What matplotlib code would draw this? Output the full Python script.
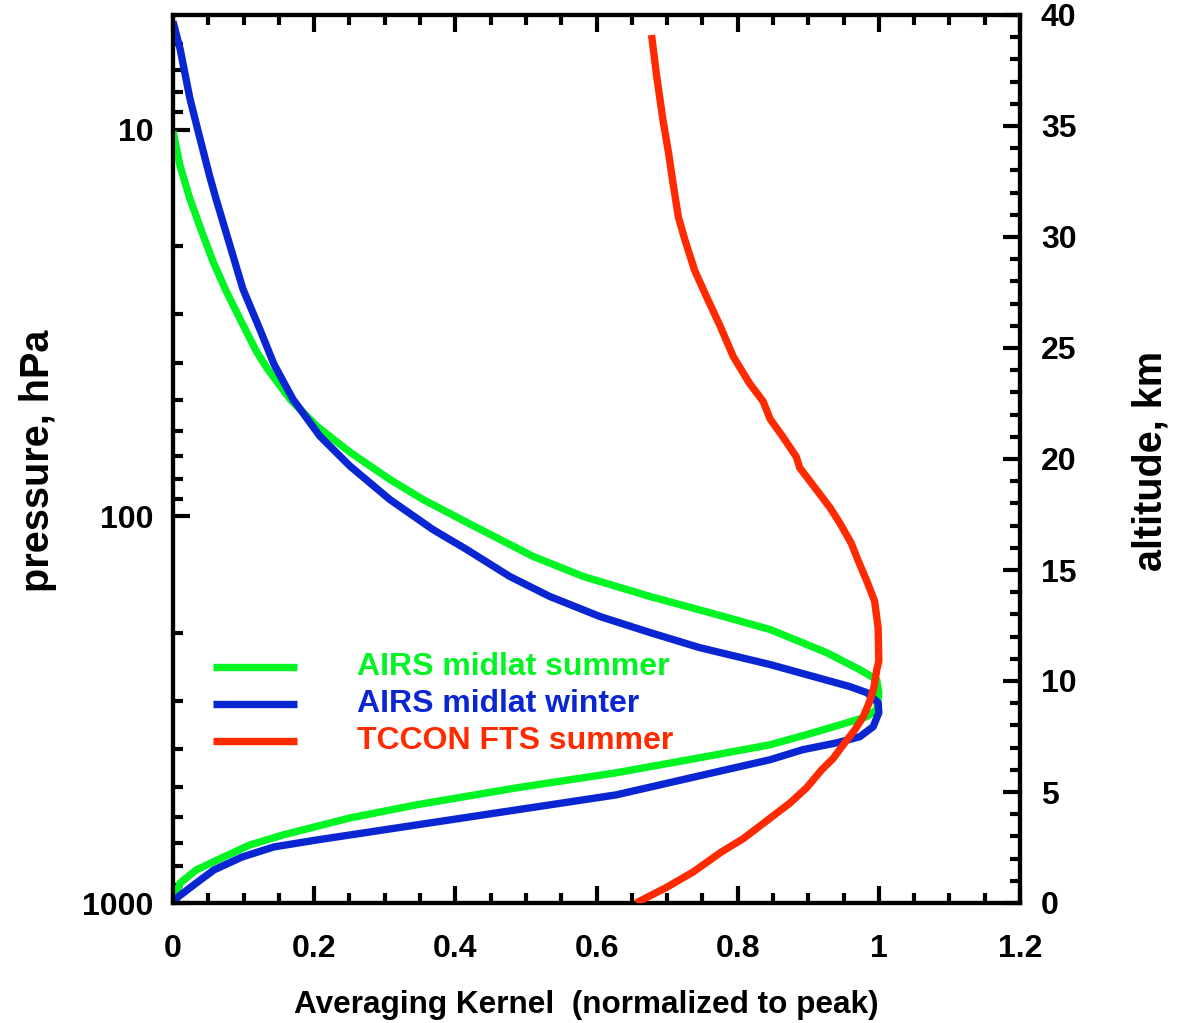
import matplotlib
matplotlib.use("Agg")
import matplotlib.pyplot as plt
from matplotlib.ticker import FixedLocator, MultipleLocator, NullFormatter, LogLocator, FixedFormatter
from matplotlib.lines import Line2D

plt.rcParams['font.family'] = ['Liberation Sans', 'DejaVu Sans']
plt.rcParams['font.weight'] = 'bold'

# ---- data ----
summer_ak = [0.000, 0.010, 0.024, 0.041, 0.057, 0.076, 0.097, 0.118, 0.134, 0.166,
             0.204, 0.251, 0.307, 0.354, 0.416, 0.510, 0.581, 0.676, 0.770, 0.846,
             0.926, 0.973, 0.997, 1.000, 0.997, 0.983, 0.955, 0.907, 0.846, 0.746,
             0.628, 0.487, 0.345, 0.251, 0.156, 0.109, 0.072, 0.033, 0.010, 0.003,
             0.000]
summer_p = [10.1, 12.4, 15.1, 18.4, 22.0, 26.3, 31.4, 37.4, 41.6, 49.8,
            58.5, 68.3, 80.2, 90.4, 103.6, 126.9, 143.0, 161.2, 179.4, 196.2,
            225.1, 249.2, 264.5, 285.8, 316.2, 329.7, 341.8, 362.8, 389.7, 421.1,
            460.4, 503.6, 557.3, 602.4, 666.6, 707.5, 760.2, 821.2, 887.8, 965.1,
            1000]

winter_ak = [0.000, 0.010, 0.024, 0.038, 0.052, 0.061, 0.082, 0.099, 0.123, 0.143,
             0.170, 0.208, 0.251, 0.307, 0.368, 0.416, 0.477, 0.534, 0.605, 0.676,
             0.746, 0.846, 0.959, 0.983, 0.999, 1.000, 0.992, 0.973, 0.941, 0.892,
             0.846, 0.746, 0.628, 0.487, 0.345, 0.204, 0.143, 0.098, 0.058, 0.033,
             0.007, 0.000]
winter_p = [5.25, 6.17, 8.31, 10.5, 13.2, 15.1, 20.3, 25.8, 32.8, 40.4,
            49.8, 62.0, 74.2, 90.4, 108.1, 121.8, 143.0, 161.2, 181.6, 199.8,
            218.5, 241.7, 275.6, 285.8, 303.4, 322.0, 349.9, 371.5, 385.0, 401.4,
            426.0, 468.8, 525.2, 574.2, 628.2, 686.9, 716.1, 760.2, 821.2, 887.8,
            965.1, 1000]

tccon_ak = [0.678, 0.685, 0.694, 0.702, 0.709, 0.716, 0.725, 0.739, 0.756, 0.775,
            0.794, 0.817, 0.836, 0.846, 0.864, 0.883, 0.888, 0.912, 0.931, 0.945,
            0.961, 0.971, 0.983, 0.994, 0.999, 1.000, 0.997, 0.993, 0.986, 0.978,
            0.966, 0.949, 0.935, 0.919, 0.898, 0.874, 0.841, 0.808, 0.777, 0.737,
            0.699, 0.656]
tccon_z = [39.1, 37.3, 35.3, 33.8, 32.3, 30.9, 29.9, 28.5, 27.3, 26.0,
           24.6, 23.4, 22.6, 21.8, 21.0, 20.1, 19.6, 18.6, 17.8, 17.1,
           16.2, 15.4, 14.5, 13.6, 12.4, 10.9, 10.5, 9.7, 9.0, 8.4,
           7.8, 7.1, 6.5, 6.0, 5.2, 4.5, 3.7, 2.9, 2.3, 1.4,
           0.7, 0.0]

series_labels = ["AIRS midlat summer", "AIRS midlat winter", "TCCON FTS summer"]
colors = ["#00f522", "#0a26d2", "#ff2a00"]

x_ticks = [0, 0.2, 0.4, 0.6, 0.8, 1, 1.2]
x_ticklabels = ["0", "0.2", "0.4", "0.6", "0.8", "1", "1.2"]
p_ticks = [10, 100, 1000]
p_ticklabels = ["10", "100", "1000"]

# ---- figure ----
fig = plt.figure(figsize=(11.77, 10.23), dpi=100)
L, R, B, T = 173/1177, 1020/1177, 1 - 903/1023, 1 - 15/1023
ax = fig.add_axes([L, B, R - L, T - B])
ax2 = ax.twinx()

lw = 5.3
ax.plot(summer_ak, summer_p, color=colors[0], lw=lw, solid_capstyle='butt',
        solid_joinstyle='round', zorder=3)
ax.plot(winter_ak, winter_p, color=colors[1], lw=lw, solid_capstyle='butt',
        solid_joinstyle='round', zorder=3)
ax2.plot(tccon_ak, tccon_z, color=colors[2], lw=lw, solid_capstyle='butt',
         solid_joinstyle='round', zorder=4)

ax.set_yscale('log')
ax.set_ylim(1000, 5.05)
ax.set_xlim(0, 1.2)
ax2.set_ylim(0, 40)

ax.xaxis.set_major_locator(FixedLocator(x_ticks))
ax.xaxis.set_major_formatter(FixedFormatter(x_ticklabels))
ax.xaxis.set_minor_locator(MultipleLocator(0.05))
ax.yaxis.set_major_locator(FixedLocator(p_ticks))
ax.yaxis.set_major_formatter(FixedFormatter(p_ticklabels))
ax.yaxis.set_minor_locator(LogLocator(base=10, subs=[2, 3, 4, 5, 6, 7, 8, 9]))
ax.yaxis.set_minor_formatter(NullFormatter())

ax2.yaxis.set_major_locator(MultipleLocator(5))
ax2.yaxis.set_minor_locator(MultipleLocator(1))

fs_tick = 23
ax.tick_params(axis='x', which='both', direction='in', top=True, bottom=True, width=3)
ax.tick_params(axis='x', which='major', length=12, pad=22, labelsize=fs_tick)
ax.tick_params(axis='x', which='minor', length=7)
ax.tick_params(axis='y', which='both', direction='in', left=True, right=False, width=3)
ax.tick_params(axis='y', which='major', length=12, pad=14, labelsize=fs_tick)
ax.tick_params(axis='y', which='minor', length=7)
ax2.tick_params(axis='y', which='both', direction='in', right=True, left=False, width=3)
ax2.tick_params(axis='y', which='major', length=12, pad=15, labelsize=fs_tick)
ax2.tick_params(axis='y', which='minor', length=7)

for a in (ax, ax2):
    for s in a.spines.values():
        s.set_linewidth(3)
    for lab in a.get_xticklabels() + a.get_yticklabels():
        lab.set_fontweight('bold')

# axis labels
fig.text(586/1177, 1 - 1005/1023, "Averaging Kernel  (normalized to peak)",
         ha='center', va='center', fontsize=22.7, fontweight='bold')
fig.text(38/1177, 1 - 461/1023, "pressure, hPa", rotation=90,
         ha='center', va='center', fontsize=28.5, fontweight='bold')
fig.text(1150/1177, 1 - 461/1023, "altitude, km", rotation=90,
         ha='center', va='center', fontsize=28.5, fontweight='bold')

# legend (manual)
leg_y = [667, 704, 741]
for lab, col, yy in zip(series_labels, colors, leg_y):
    yf = (903 - yy) / (903 - 15)
    ax.add_line(Line2D([(213 - 173) / 847, (297 - 173) / 847], [yf, yf],
                       transform=ax.transAxes, color=col, lw=lw, solid_capstyle='butt'))
    ax.text((357 - 173) / 847, yf, lab, transform=ax.transAxes, color=col,
            fontsize=23, fontweight='bold', ha='left', va='center')

fig.savefig("out.png", dpi=100)
